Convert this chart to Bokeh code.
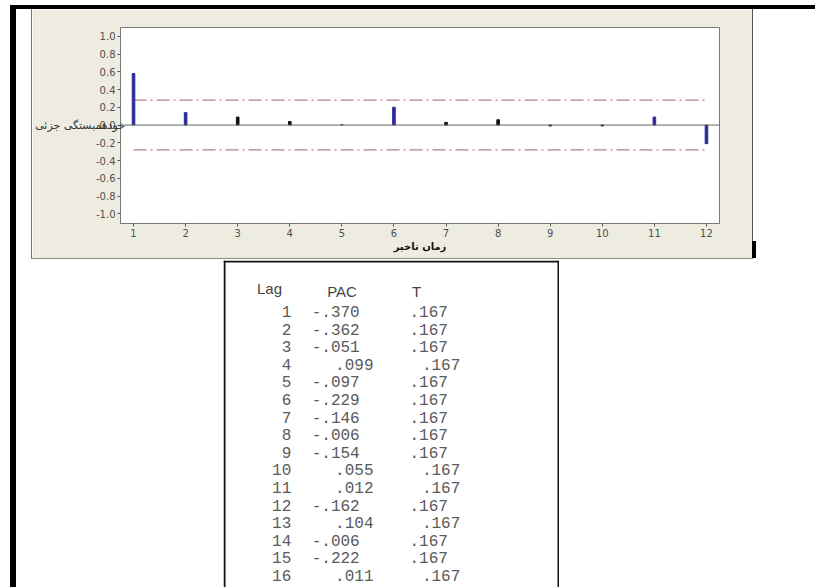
from bokeh.plotting import figure
from bokeh.models import Range1d, Span, Spacer, FixedTicker
from bokeh.layouts import row, column
from bokeh.embed import file_html
from bokeh.resources import INLINE
from bokeh.core.properties import value

# ---------------- data ----------------
lags = [1, 2, 3, 4, 5, 6, 7, 8, 9, 10, 11, 12]
pacf = [0.58, 0.14, 0.09, 0.04, 0.005, 0.20, 0.03, 0.06, -0.01, -0.01, 0.09, -0.21]
bar_colors = ["#2b2b9c", "#2b2b9c", "#111111", "#111111", "#555555", "#2b2b9c",
              "#111111", "#111111", "#111111", "#111111", "#2b2b9c", "#2b2b9c"]
conf_limit = 0.28
y_ticks = [-1.0, -0.8, -0.6, -0.4, -0.2, 0.0, 0.2, 0.4, 0.6, 0.8, 1.0]
y_tick_labels = ["-1.0", "-0.8", "-0.6", "-0.4", "-0.2", "0.0", "0.2", "0.4", "0.6", "0.8", "1.0"]
y_label = "خودهمبستگی جزئی"
x_label = "زمان تاخیر"

table_headers = ["Lag", "PAC", "T"]
table_lags = [1, 2, 3, 4, 5, 6, 7, 8, 9, 10, 11, 12, 13, 14, 15, 16]
table_pac = [-0.370, -0.362, -0.051, 0.099, -0.097, -0.229, -0.146, -0.006,
             -0.154, 0.055, 0.012, -0.162, 0.104, -0.006, -0.222, 0.011]
table_t = [0.167, 0.167, 0.167, 0.167, 0.167, 0.167, 0.167, 0.167,
           0.167, 0.167, 0.167, 0.167, 0.167, 0.167, 0.167, 0.167]

# ---------------- chart panel ----------------
PANEL = "#EEEBE1"
p = figure(width=720, height=249, x_range=Range1d(0.75, 12.25), y_range=Range1d(-1.11, 1.10),
           output_backend="svg", toolbar_location=None,
           min_border_left=88, min_border_right=33, min_border_top=18, min_border_bottom=35)
p.border_fill_color = PANEL
p.background_fill_color = "white"
p.outline_line_color = "#7a7a7a"
p.xgrid.visible = False
p.ygrid.visible = False

p.add_layout(Span(location=0, dimension="width", line_color="#666666", line_width=1))
for lim in (conf_limit, -conf_limit):
    p.line(x=[lags[0], lags[-1]], y=[lim, lim], line_color="#b08585",
           line_width=1.3, line_dash="13 4 2 4")
p.vbar(x=lags, top=pacf, bottom=0, width=0.05, color=bar_colors)

p.xaxis.ticker = FixedTicker(ticks=lags)
p.yaxis.ticker = FixedTicker(ticks=y_ticks)
p.yaxis.major_label_overrides = {t: l for t, l in zip(y_ticks, y_tick_labels)}
for ax in (p.xaxis[0], p.yaxis[0]):
    ax.axis_line_color = "#7a7a7a"
    ax.major_tick_line_color = "#555555"
    ax.major_tick_in = 0
    ax.major_tick_out = 3
    ax.minor_tick_line_color = None
    ax.major_label_text_font = "DejaVu Sans"
    ax.major_label_text_font_size = "10px"
    ax.major_label_text_color = "#505050"
    ax.major_label_standoff = 2
p.xaxis.axis_label = x_label
p.xaxis.axis_label_text_font = "DejaVu Sans"
p.xaxis.axis_label_text_font_size = "10px"
p.xaxis.axis_label_text_font_style = "bold"
p.xaxis.axis_label_text_color = "#111111"
p.xaxis.axis_label_standoff = 1

p.yaxis.axis_label = y_label
p.yaxis.axis_label_orientation = "horizontal"
p.yaxis.axis_label_standoff = -32
p.yaxis.axis_label_text_font = "DejaVu Sans"
p.yaxis.axis_label_text_font_size = "11px"
p.yaxis.axis_label_text_font_style = "normal"
p.yaxis.axis_label_text_color = "#333333"

# ---------------- table ----------------
TW, TH = 336, 327
tf = figure(width=TW, height=TH, x_range=Range1d(0, TW), y_range=Range1d(TH, 0),
            output_backend="svg", toolbar_location=None, min_border=0,
            x_axis_location=None, y_axis_location=None)
tf.xgrid.visible = False
tf.ygrid.visible = False
tf.outline_line_color = None
tf.background_fill_color = "white"
tf.border_fill_color = "white"
tf.segment(x0=[0, 1, TW - 1], y0=[1, 0, 0], x1=[TW, 1, TW - 1], y1=[1, TH, TH],
           line_color="#111111", line_width=2)

char_w = 12.4
origin = 44.0
row0, row_h = 51.0, 17.6
lag_x, lag_y, pac_x, pac_y, t_x = [], [], [], [], []
lag_txt, pac_txt, t_txt = [], [], []
for i, (lg, pv, tv) in enumerate(zip(table_lags, table_pac, table_t)):
    y = row0 + row_h * i
    lag_txt.append(str(lg))
    lag_x.append(origin + 2 * char_w - 1)
    lag_y.append(y)
    s = ("%.3f" % abs(pv))[1:]
    if pv < 0:
        pac_txt.append("-" + s)
        pac_x.append(origin + char_w * 5.5)
        t_x.append(origin + char_w * 13)
    else:
        pac_txt.append(s)
        pac_x.append(origin + char_w * 7)
        t_x.append(origin + char_w * 14)
    pac_y.append(y)
    t_txt.append(("%.3f" % tv)[1:])

mono = dict(text_font=value("Liberation Mono"), text_font_size="16px",
            text_color="#5a5a5a", text_baseline="middle")
tf.text(x=lag_x, y=lag_y, text=lag_txt, text_align="right", **mono)
tf.text(x=pac_x, y=pac_y, text=pac_txt, text_align="center", **mono)
tf.text(x=t_x, y=pac_y, text=t_txt, text_align="center", **mono)

tf.text(x=[46, 118.5, 193], y=[28, 31, 31], text=table_headers, text_align="center",
        text_baseline="middle", text_font=value("Liberation Sans"),
        text_font_size="15px", text_color="#444444")

# ---------------- page assembly ----------------
def bar(w, h, color=None):
    if color is None:
        return Spacer(width=w, height=h)
    return Spacer(width=w, height=h, styles={"background-color": color})

right_edge = column(bar(1, 232, "#555555"), bar(4, 17, "#000000"))
panel_row = row(bar(1, 249, "#777777"), p, right_edge)
right_col = column(panel_row, bar(722, 1, "#8a8a8a"), bar(722, 1),
                   row(bar(192, TH), tf))
inner = row(bar(6, 578, "#000000"), bar(15, 578), right_col)
framed = column(bar(805, 4, "#000000"), inner)
page = column(bar(815, 5), row(bar(10, 582), framed))

open("out.html", "w").write(file_html(page, INLINE))
